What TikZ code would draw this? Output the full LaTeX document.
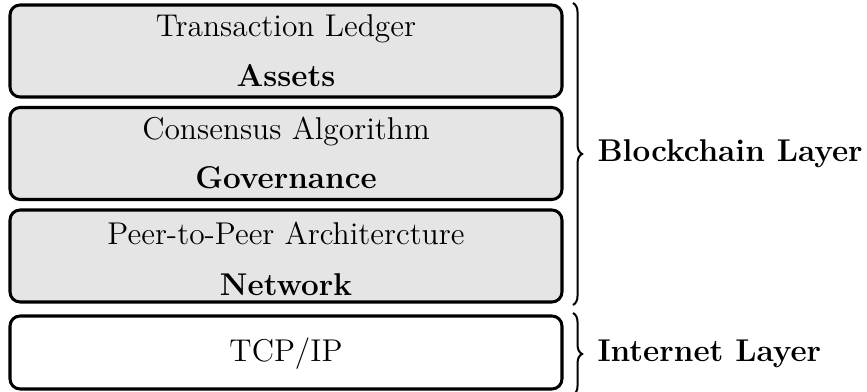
\documentclass[tikz,border=0pt]{standalone}
\usetikzlibrary{decorations.pathreplacing,fit}

\tikzset{
  layerbox/.style={draw, very thick, rounded corners=4pt, inner sep=0pt},
  shaded/.style={layerbox, fill=gray!20},
  plain/.style={layerbox, fill=white},
  boxtext/.style={anchor=base, inner sep=0pt, font=\fontsize{12.5}{15}\selectfont},
  sidebrace/.style={draw, thick, decorate, decoration={brace, amplitude=3.6pt}},
  sidelabel/.style={anchor=base west, inner sep=0pt, font=\fontsize{12.5}{15}\selectfont\bfseries},
}

\begin{document}
\begin{tikzpicture}[x=0.397pt, y=-0.397pt]
  \useasboundingbox (0,0) rectangle (867,392);

  % blockchain stack
  \node[shaded, fit={(10,5) (562,97)}] (assets) {};
  \node[shaded, fit={(10,107.5) (562,199.5)}] (gov) {};
  \node[shaded, fit={(10,210) (562,302)}] (net) {};
  % internet stack
  \node[plain, fit={(10,316) (562,389)}] (tcp) {};

  \node[boxtext] (t1) at (286,37) {Transaction Ledger};
  \node[boxtext] (t2) at (286,86.5) {\bfseries Assets};
  \node[boxtext] (t3) at (286,139.5) {Consensus Algorithm};
  \node[boxtext] (t4) at (286,189) {\bfseries Governance};
  \node[boxtext] (t5) at (286,245) {Peer-to-Peer Architercture};
  \node[boxtext] (t6) at (286,295.5) {\bfseries Network};
  \node[boxtext] (t7) at (286,362) {TCP/IP};

  % braces on the right
  \coordinate (b1top) at (573,3);
  \coordinate (b1bot) at (573,305);
  \coordinate (b2top) at (573,313);
  \coordinate (b2bot) at (573,395);
  \draw[sidebrace] (b1top) -- (b1bot);
  \draw[sidebrace] (b2top) -- (b2bot);

  \node[sidelabel] (blk) at (597,162) {Blockchain Layer};
  \node[sidelabel] (inet) at (597,362) {Internet Layer};
\end{tikzpicture}
\end{document}
